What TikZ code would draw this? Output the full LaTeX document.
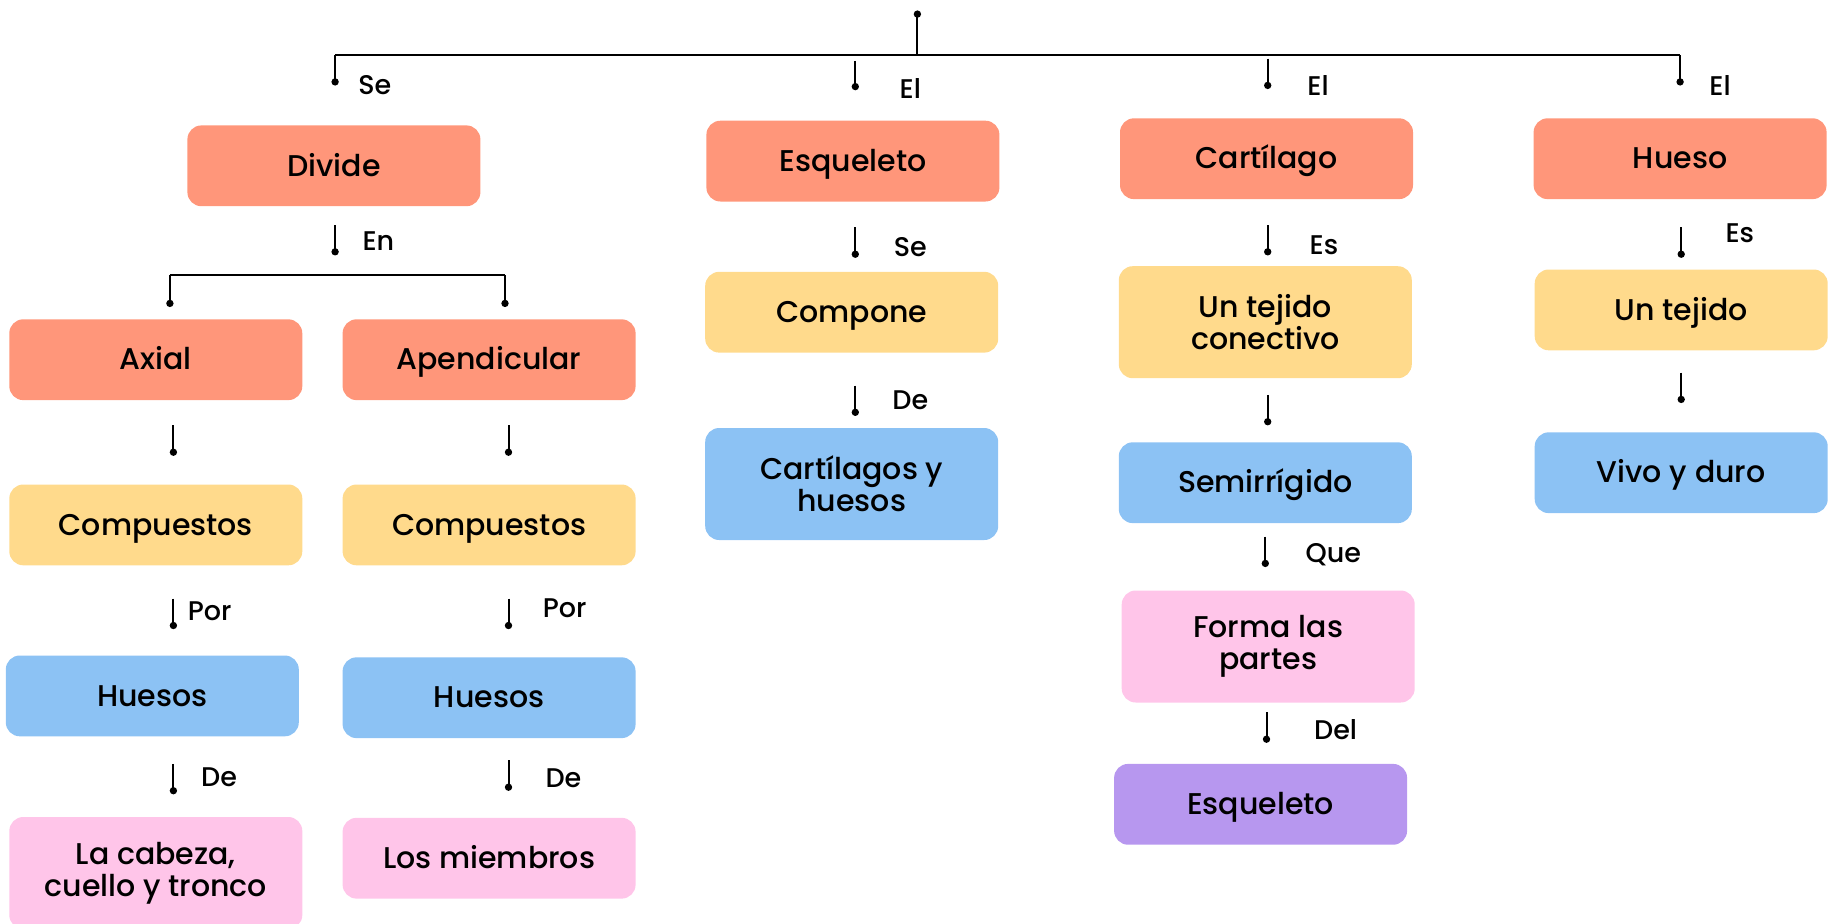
\documentclass[tikz,border=0pt]{standalone}
\usepackage{fontspec}
\setmainfont{Poppins Medium}
\usetikzlibrary{arrows.meta}
\definecolor{cOr}{RGB}{255,150,122}
\definecolor{cYe}{RGB}{255,218,140}
\definecolor{cBl}{RGB}{140,194,244}
\definecolor{cPk}{RGB}{255,197,233}
\definecolor{cPu}{RGB}{183,151,239}
\tikzset{
  box/.style={rounded corners=7pt, minimum width=146.5pt, minimum height=40.4pt, align=center, font=\fontsize{15}{16}\selectfont, inner sep=2pt},
  one/.style={text height=1.1em, text depth=0.08em},
  tall/.style={minimum height=56pt},
  orbox/.style={box, one, fill=cOr},
  yebox/.style={box, fill=cYe},
  blbox/.style={box, fill=cBl},
  pkbox/.style={box, fill=cPk},
  pubox/.style={box, one, fill=cPu},
  lab/.style={font=\fontsize{13.5}{14}\selectfont, inner sep=0pt},
  ln/.style={line width=1pt, black},
  conn/.style={ln, -{Circle[length=3.6pt,width=3.6pt]}},
}
\begin{document}
\begin{tikzpicture}[x=0.5pt,y=-0.5pt]
\useasboundingbox (0,0) rectangle (1837,923);
% boxes
\node[orbox] (divide) at (333.9,165.8) {Divide};
\node[orbox] (esq) at (852.9,161.1) {Esqueleto};
\node[orbox] (cart) at (1266.5,158.7) {Cartílago};
\node[orbox] (hueso) at (1680.1,158.7) {Hueso};
\node[orbox] (axial) at (155.8,359.7) {Axial};
\node[orbox] (apen) at (489.1,359.7) {Apendicular};
\node[yebox, one] (comp1) at (155.8,524.9) {Compuestos};
\node[yebox, one] (comp2) at (489.1,524.9) {Compuestos};
\node[blbox, one] (hues1) at (152.3,695.9) {Huesos};
\node[blbox, one] (hues2) at (489.1,697.7) {Huesos};
\node[pkbox, minimum height=56pt] (cabeza) at (155.8,873) {La cabeza,\\cuello y tronco};
\node[pkbox, one] (miem) at (489.1,858.2) {Los miembros};
\node[yebox, one] (compone) at (851.7,312.2) {Compone};
\node[blbox, tall] (cyh) at (851.7,484) {Cartílagos y\\huesos};
\node[yebox, tall] (tejc) at (1265.3,322.2) {Un tejido\\conectivo};
\node[blbox, one] (semi) at (1265.3,482.7) {Semirrígido};
\node[pkbox, tall] (forma) at (1268.2,646.5) {Forma las\\partes};
\node[pubox] (esq2) at (1260.6,804.3) {Esqueleto};
\node[yebox, one] (tej) at (1681.2,309.9) {Un tejido};
\node[blbox, one] (vivo) at (1681.2,472.7) {Vivo y duro};
% labels
\node[lab] (lSe) at (374.9,85.5) {Se};
\node[lab] (lEl1) at (910.3,89) {El};
\node[lab] (lEl2) at (1318,85.5) {El};
\node[lab] (lEl3) at (1720,85.5) {El};
\node[lab] (lEn) at (378.4,241.3) {En};
\node[lab] (lPor1) at (209.7,611.6) {Por};
\node[lab] (lPor2) at (564.7,608) {Por};
\node[lab] (lDe1) at (219.1,776.8) {De};
\node[lab] (lDe2) at (563.5,777.9) {De};
\node[lab] (lSe2) at (910.3,247.2) {Se};
\node[lab] (lDe3) at (910.3,400.7) {De};
\node[lab] (lEs1) at (1323.9,244.9) {Es};
\node[lab] (lQue) at (1333.3,554.2) {Que};
\node[lab] (lDel) at (1335.6,729.9) {Del};
\node[lab] (lEs2) at (1739.8,233.1) {Es};
% top tree
\coordinate (top) at (917.4,10.5);
\coordinate (topJ) at (917.4,55.1);
\coordinate (hL) at (335.1,55.1);
\coordinate (hR) at (1680.1,55.1);
\coordinate (dSe) at (335.1,85.5);
\coordinate (dEl3) at (1680.1,85.5);
\coordinate (s1) at (855.3,60.9);
\coordinate (e1) at (855.3,90.2);
\coordinate (s2) at (1267.7,58.6);
\coordinate (e2) at (1267.7,89.0);
\draw[ln, {Circle[length=3.6pt,width=3.6pt]}-] (top) -- (topJ);
\draw[ln] (hL) -- (hR);
\draw[conn] (hL) -- (dSe);
\draw[conn] (hR) -- (dEl3);
\draw[conn] (s1) -- (e1);
\draw[conn] (s2) -- (e2);
% divide branch
\coordinate (s3) at (335.1,225);
\coordinate (e3) at (335.1,255.4);
\draw[conn] (s3) -- (e3);
\coordinate (bL) at (169.9,275.3);
\coordinate (bR) at (505,275.3);
\coordinate (bLd) at (169.9,307);
\coordinate (bRd) at (505,307);
\draw[ln] (bL) -- (bR);
\draw[conn] (bL) -- (bLd);
\draw[conn] (bR) -- (bRd);
\coordinate (s4) at (173.4,425.3); \coordinate (e4) at (173.4,455.8);
\coordinate (s5) at (508.5,425.3); \coordinate (e5) at (508.5,455.8);
\draw[conn] (s4) -- (e4);
\draw[conn] (s5) -- (e5);
\coordinate (s6) at (173.4,598.7); \coordinate (e6) at (173.4,629.1);
\coordinate (s7) at (508.5,598.7); \coordinate (e7) at (508.5,629.1);
\draw[conn] (s6) -- (e6);
\draw[conn] (s7) -- (e7);
\coordinate (s8) at (173.4,763.9); \coordinate (e8) at (173.4,794.3);
\coordinate (s9) at (508.5,760.4); \coordinate (e9) at (508.5,790.8);
\draw[conn] (s8) -- (e8);
\draw[conn] (s9) -- (e9);
% esqueleto branch
\coordinate (s10) at (855.3,227.3); \coordinate (e10) at (855.3,257.8);
\coordinate (s11) at (855.3,385.5); \coordinate (e11) at (855.3,415.9);
\draw[conn] (s10) -- (e10);
\draw[conn] (s11) -- (e11);
% cartilago branch
\coordinate (s12) at (1267.7,225); \coordinate (e12) at (1267.7,255.4);
\coordinate (s13) at (1267.7,394.8); \coordinate (e13) at (1267.7,425.3);
\coordinate (s14) at (1265.3,536.6); \coordinate (e14) at (1265.3,567);
\coordinate (s15) at (1266.5,712.3); \coordinate (e15) at (1266.5,742.8);
\draw[conn] (s12) -- (e12);
\draw[conn] (s13) -- (e13);
\draw[conn] (s14) -- (e14);
\draw[conn] (s15) -- (e15);
% hueso branch
\coordinate (s16) at (1681.2,227.3); \coordinate (e16) at (1681.2,257.8);
\coordinate (s17) at (1681.2,372.6); \coordinate (e17) at (1681.2,403);
\draw[conn] (s16) -- (e16);
\draw[conn] (s17) -- (e17);
\end{tikzpicture}
\end{document}
